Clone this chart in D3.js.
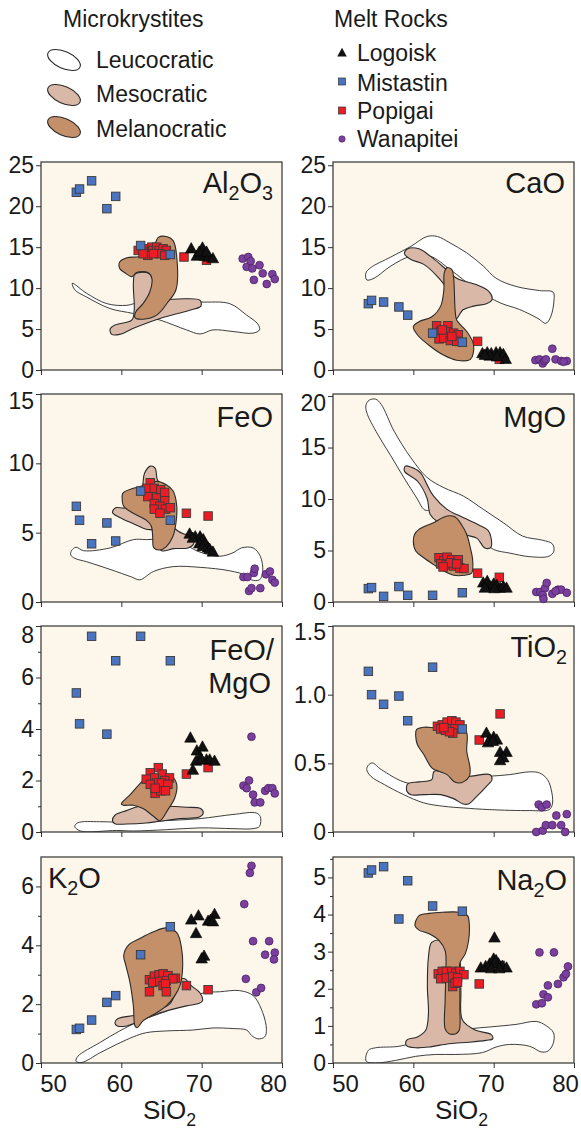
<!DOCTYPE html>
<html><head><meta charset="utf-8">
<script src="https://cdn.jsdelivr.net/npm/d3@7"></script>
<style>
body{margin:0;background:#fff}
text{font-family:"Liberation Sans",Arial,Helvetica,sans-serif;fill:#1a1a1a}
</style>
</head><body>
<svg id="c" width="581" height="1134"></svg>
<script>
// ---------------- DATA ----------------
const xTicks = [50, 60, 70, 80];

// Mistastin samples (same SiO2 in every panel)
const siO2Mistastin = [54.4, 54.8, 56.3, 58.2, 59.3, 62.4, 66.1];
const mistastinAl2O3 = [21.7, 22.1, 23.1, 19.7, 21.2, 15.2, 14.1];
const mistastinCaO   = [8.1, 8.5, 8.3, 7.7, 6.7, 4.5, 3.4];
const mistastinFeO   = [6.9, 5.9, 4.2, 5.7, 4.4, 8.0, 5.9];
const mistastinMgO   = [1.3, 1.4, 0.55, 1.5, 0.65, 0.65, 0.9];
const mistastinFeOMgO= [5.4, 4.2, 7.6, 3.8, 6.65, 7.6, 6.65];
const mistastinTiO2  = [1.17, 1.0, 0.93, 0.99, 0.81, 1.2, 0.75];
const mistastinK2O   = [1.14, 1.18, 1.46, 2.06, 2.29, 3.68, 4.63];
const mistastinNa2O  = [5.12, 5.2, 5.29, 3.88, 4.91, 4.23, 4.09];

// Popigai [SiO2, oxide]
const popigaiAl2O3 = [[62.1,14.6],[62.7,14.8],[63.1,14.4],[63.8,15.0],[63.9,14.6],[64.4,15.0],[64.7,14.6],[65.2,14.8],[65.6,14.6],[64.8,14.2],[63.3,14.0],[62.7,14.2],[64.0,14.2],[65.4,14.0],[67.8,13.8],[70.6,13.4]];
const popigaiCaO = [[62.9,5.4],[64.3,5.4],[63.4,4.7],[64.2,4.7],[65.0,4.5],[65.6,4.3],[63.2,3.8],[63.8,3.9],[64.6,3.6],[65.4,3.5],[63.6,4.9],[64.8,4.1],[68.0,3.5],[70.7,1.3]];
const popigaiFeO = [[63.6,8.6],[63.2,8.2],[64.1,8.2],[64.9,8.1],[63.3,7.6],[64.4,7.5],[65.4,7.9],[65.4,7.3],[64.1,7.1],[64.8,6.9],[65.5,6.7],[66.1,6.8],[64.1,6.7],[64.8,6.4],[68.1,6.4],[70.8,6.2]];
const popigaiMgO = [[63.2,4.3],[63.8,4.0],[64.2,4.35],[64.8,4.1],[65.6,4.1],[63.4,3.7],[64.1,3.6],[65.0,3.5],[65.8,3.3],[66.3,3.25],[64.6,3.8],[65.4,3.7],[63.7,3.4],[68.0,2.8],[70.7,2.4]];
const popigaiFeOMgO = [[64.6,2.5],[63.6,2.3],[65.1,2.25],[66.0,2.1],[64.1,2.1],[63.1,2.05],[65.4,2.0],[64.4,1.9],[63.6,1.85],[65.0,1.9],[65.8,1.85],[64.2,1.5],[64.9,1.6],[65.5,1.6],[64.2,1.7],[68.1,2.25],[70.8,2.5]];
const popigaiTiO2 = [[63.0,0.77],[63.6,0.78],[64.2,0.8],[64.8,0.81],[65.3,0.8],[65.8,0.78],[63.4,0.75],[64.0,0.74],[64.6,0.75],[65.2,0.75],[64.9,0.72],[64.5,0.73],[63.8,0.76],[68.2,0.67],[70.8,0.86]];
const popigaiK2O = [[63.5,2.83],[64.1,2.95],[64.7,3.0],[65.2,3.03],[65.8,2.97],[66.7,2.88],[63.9,2.74],[64.8,2.77],[65.6,2.8],[66.4,2.86],[65.2,2.63],[65.5,2.69],[63.5,2.42],[65.6,2.42],[68.1,2.63],[70.8,2.49]];
const popigaiNa2O = [[63.1,2.4],[63.6,2.47],[64.1,2.47],[64.8,2.47],[65.3,2.42],[65.8,2.47],[66.3,2.38],[63.4,2.27],[64.1,2.29],[64.9,2.33],[65.5,2.29],[64.9,2.06],[65.2,2.15],[65.5,2.18],[68.2,2.13],[70.8,2.63]];

// Logoisk [SiO2, oxide]
const logoiskAl2O3 = [[68.7,14.8],[70.1,14.9],[69.4,13.9],[70.4,13.9],[70.9,13.8],[71.4,13.6],[69.7,14.4],[70.6,14.4]];
const logoiskCaO = [[68.6,2.0],[69.2,2.1],[69.7,2.0],[70.3,2.1],[70.8,2.1],[71.2,1.9],[71.5,1.3],[69.5,1.7],[70.4,1.6],[68.9,1.8]];
const logoiskFeO = [[68.5,4.9],[69.2,4.7],[69.8,4.7],[70.2,4.5],[69.7,4.2],[70.4,4.2],[70.8,3.9],[71.0,3.8],[71.4,3.6],[70.1,4.0],[68.9,4.6]];
const logoiskMgO = [[68.7,1.85],[69.2,2.0],[69.5,1.5],[70.0,1.75],[70.4,1.6],[70.8,1.35],[71.2,1.5],[71.6,1.35],[68.9,1.35],[70.1,1.3]];
const logoiskFeOMgO = [[68.6,3.65],[69.4,3.15],[70.1,3.3],[69.8,2.9],[69.3,2.75],[70.6,2.8],[71.0,2.8],[71.6,2.75],[68.9,2.4],[70.0,2.8]];
const logoiskTiO2 = [[69.1,0.72],[69.5,0.67],[70.0,0.69],[70.4,0.67],[69.3,0.65],[70.8,0.58],[71.6,0.58],[71.2,0.54],[70.8,0.52],[69.9,0.66]];
const logoiskK2O = [[68.7,4.86],[69.6,5.0],[69.3,4.4],[70.3,3.63],[70.0,3.54],[70.8,4.82],[71.1,4.85],[71.6,5.05],[71.4,4.8]];
const logoiskNa2O = [[70.1,3.37],[68.4,2.56],[69.0,2.6],[69.5,2.67],[70.0,2.8],[70.3,2.76],[70.6,2.67],[71.1,2.6],[71.6,2.56],[69.7,2.54],[70.7,2.54]];

// Wanapitei [SiO2, oxide]
const wanapiteiAl2O3 = [[75.1,13.6],[75.8,13.8],[75.6,12.6],[76.1,13.3],[76.3,12.4],[77.2,12.8],[77.6,11.8],[76.5,11.0],[78.1,10.5],[78.8,11.7],[79.1,11.1]];
const wanapiteiCaO = [[75.2,1.2],[75.7,1.3],[76.1,0.8],[76.3,1.1],[76.5,1.3],[77.3,2.6],[77.7,1.3],[78.4,1.1],[79.1,1.1],[78.7,1.0]];
const wanapiteiFeO = [[75.2,1.8],[75.7,1.8],[76.5,2.1],[76.6,2.4],[78.0,2.0],[78.5,2.2],[78.8,1.6],[79.1,1.4],[75.9,0.8],[76.2,1.0],[77.3,1.0]];
const wanapiteiMgO = [[75.3,0.97],[75.8,0.97],[76.1,0.7],[76.2,0.3],[76.4,1.35],[76.6,1.85],[77.3,0.8],[78.0,1.2],[78.4,1.2],[79.1,0.9],[77.7,1.05]];
const wanapiteiFeOMgO = [[76.2,3.7],[75.2,1.8],[75.6,1.7],[75.9,2.0],[76.4,1.45],[76.6,1.15],[77.3,1.15],[77.9,1.6],[78.3,1.7],[78.8,1.7],[79.1,1.5]];
const wanapiteiTiO2 = [[75.6,0.2],[76.0,0.18],[76.6,0.2],[75.3,0.0],[76.1,0.01],[76.5,0.05],[77.3,0.05],[77.8,0.12],[78.4,0.05],[79.1,0.13],[78.9,0.0]];
const wanapiteiK2O = [[76.2,6.7],[76.0,6.46],[75.3,5.4],[76.4,4.14],[78.4,4.14],[77.9,3.68],[79.1,3.75],[79.0,3.52],[75.5,2.86],[76.8,2.4],[77.4,2.55]];
const wanapiteiNa2O = [[75.7,2.98],[77.5,2.98],[75.3,1.58],[76.0,1.61],[76.2,1.85],[76.75,1.77],[76.75,2.09],[78.0,2.13],[78.7,2.31],[79.0,2.4],[79.25,2.6]];

// Microkrystite fields (outline vertices, [SiO2, oxide])
const leucoAl2O3 = [[53.9,10.6],[55.7,9.35],[58.2,8.1],[60.7,7.9],[62.3,8.3],[65.6,8.5],[69.8,8.3],[73.5,8.1],[75.6,6.7],[77.0,5.6],[77.2,4.9],[76.4,4.5],[73.9,4.7],[71.4,4.9],[69.8,4.4],[68.1,4.9],[64.8,6.1],[61.5,6.9],[58.6,7.5],[55.7,8.9],[54.2,9.8]];
const mesoAl2O3 = [[58.8,4.35],[58.6,5.0],[59.2,5.5],[61.3,6.1],[61.6,7.3],[61.5,10.6],[61.7,11.7],[63.1,11.9],[63.8,11.5],[63.9,9.8],[63.3,8.5],[65.6,8.6],[68.1,8.7],[69.8,8.5],[69.9,7.8],[68.5,7.3],[64.8,6.3],[61.5,5.1],[59.8,4.35]];
const melaAl2O3 = [[59.8,13.2],[60.7,13.7],[62.3,13.9],[64.0,15.0],[64.6,16.2],[65.6,16.3],[66.45,15.8],[66.9,13.8],[66.8,9.8],[65.8,8.3],[64.4,6.7],[62.7,6.2],[61.7,6.4],[61.8,7.1],[62.7,8.1],[63.55,9.55],[63.8,11.2],[63.3,11.9],[61.9,11.9],[61.3,11.4],[60.4,11.9],[59.8,12.4]];

const leucoCaO = [[54.2,11.0],[54.1,11.85],[54.7,12.5],[57.2,13.8],[59.7,15.1],[61.7,16.3],[63.0,16.3],[64.6,15.5],[66.65,14.3],[68.7,12.7],[70.3,11.2],[72.8,10.2],[75.7,9.7],[77.4,9.5],[77.5,8.4],[77.1,6.5],[76.5,5.7],[75.5,6.3],[73.2,7.4],[70.8,8.2],[67.9,9.8],[64.6,12.25],[62.1,13.9],[59.7,13.9],[57.2,12.7],[55.1,11.2]];
const mesoCaO = [[58.9,14.2],[59.3,14.8],[60.7,14.8],[62.1,13.9],[63.6,12.7],[65.4,11.2],[67.9,10.4],[69.4,9.6],[69.8,8.6],[69.1,8.1],[67.5,7.8],[66.2,7.35],[65.2,6.1],[64.6,7.35],[64.2,9.8],[63.0,11.4],[61.3,12.9],[59.7,13.5]];
const melaCaO = [[64.2,12.5],[64.8,12.25],[65.0,11.4],[65.1,9.8],[65.2,7.35],[65.4,6.1],[66.65,4.7],[67.5,3.1],[67.1,1.3],[65.4,1.2],[63.8,1.8],[62.1,2.9],[60.5,4.3],[60.0,5.3],[60.7,5.9],[62.3,6.5],[63.4,7.8],[63.8,9.8],[63.85,11.85]];

const leucoFeO = [[53.8,3.7],[54.35,3.95],[55.3,3.7],[58.6,3.9],[61.5,4.5],[63.1,4.5],[66.45,4.5],[69.8,3.6],[72.25,3.3],[73.9,3.55],[74.95,3.9],[76.4,3.9],[77.3,3.3],[77.6,2.2],[77.2,1.6],[76.2,1.6],[75.6,1.9],[73.5,2.25],[69.8,2.5],[66.45,2.55],[64.0,2.2],[62.3,1.6],[61.3,1.8],[58.6,2.35],[55.7,2.9],[54.2,3.15],[53.7,3.4]];
const mesoFeO = [[58.9,6.45],[59.3,6.8],[60.6,6.8],[62.5,8.1],[62.9,9.3],[63.6,9.8],[64.2,9.65],[64.5,8.8],[65.2,8.35],[66.45,5.45],[67.8,4.9],[68.7,4.9],[69.0,4.2],[68.3,3.9],[66.45,3.85],[65.0,3.7],[64.2,4.7],[64.05,5.15],[63.1,5.25],[61.5,5.65],[59.8,6.1]];
const melaFeO = [[60.2,7.85],[61.5,8.2],[63.1,8.45],[64.4,8.7],[65.6,8.45],[66.45,8.0],[66.9,6.9],[66.8,5.7],[66.4,4.7],[65.6,4.0],[64.8,3.75],[64.05,3.9],[63.9,4.7],[63.75,5.45],[63.1,5.9],[61.5,6.4],[60.3,6.9],[60.1,7.5]];

const leucoMgO = [[54.2,18.4],[54.1,19.1],[54.5,19.6],[55.3,19.7],[56.0,19.2],[57.6,16.6],[59.7,14.0],[61.7,12.1],[63.8,11.1],[66.2,10.3],[68.7,9.0],[71.2,7.7],[73.6,6.4],[76.1,6.0],[77.3,5.65],[77.5,4.95],[76.9,4.45],[74.5,4.4],[72.0,4.75],[70.0,5.1],[68.7,5.9],[67.1,7.05],[64.6,8.2],[62.5,9.3],[61.9,8.9],[61.3,9.0],[60.5,10.0],[58.8,12.1],[57.2,14.2],[55.55,16.3]];
const mesoMgO = [[58.9,12.7],[59.0,13.2],[59.7,13.1],[60.9,12.55],[61.7,11.4],[62.5,10.3],[64.2,9.0],[66.2,8.2],[68.1,7.5],[69.3,6.95],[69.7,6.1],[69.65,5.3],[68.9,5.25],[67.9,6.2],[66.4,6.55],[65.4,7.2],[62.95,7.85],[62.1,8.5],[61.7,10.1],[60.5,11.75]];
const melaMgO = [[60.15,6.55],[60.7,7.05],[62.5,7.7],[64.2,8.35],[65.2,8.25],[66.0,7.5],[66.65,6.55],[67.1,5.25],[67.4,3.95],[67.25,2.8],[66.4,2.6],[65.0,2.6],[63.8,3.0],[62.5,3.65],[61.3,4.3],[60.3,4.95],[60.0,5.9]];

const leucoFeOMgO = [[54.2,0.22],[54.6,0.36],[57.3,0.4],[61.5,0.36],[64.8,0.43],[69.8,0.52],[73.9,0.68],[76.8,0.74],[77.3,0.6],[77.2,0.22],[76.4,0.13],[73.9,0.13],[69.8,0.16],[65.6,0.09],[61.5,0.04],[59.4,0.06],[54.9,0.04]];
const mesoFeOMgO = [[58.9,0.44],[59.2,0.65],[60.65,0.83],[62.3,1.0],[65.6,1.0],[68.1,0.96],[69.85,0.91],[70.2,0.74],[69.7,0.58],[67.3,0.52],[64.8,0.42],[63.1,0.35],[60.65,0.31],[59.2,0.32]];
const melaFeOMgO = [[60.0,1.09],[61.1,1.45],[62.3,1.87],[63.3,2.17],[64.8,2.23],[66.25,2.17],[66.9,1.84],[66.65,1.32],[65.8,0.87],[64.8,0.44],[64.0,0.61],[62.7,0.91],[61.5,1.04],[60.25,1.04]];

const leucoTiO2 = [[54.2,0.455],[54.4,0.486],[54.9,0.503],[56.0,0.455],[59.25,0.357],[62.5,0.365],[66.2,0.394],[69.5,0.406],[72.0,0.418],[74.45,0.438],[75.7,0.43],[76.7,0.382],[77.25,0.284],[77.3,0.2],[76.9,0.163],[74.45,0.156],[69.5,0.163],[66.2,0.175],[63.8,0.187],[61.3,0.212],[58.8,0.272],[56.4,0.345],[54.7,0.406]];
const mesoTiO2 = [[59.2,0.297],[59.3,0.35],[60.7,0.365],[62.3,0.382],[62.6,0.443],[65.4,0.406],[67.1,0.406],[69.5,0.418],[69.8,0.382],[69.1,0.333],[67.9,0.26],[66.85,0.204],[66.2,0.204],[65.0,0.243],[63.4,0.272],[61.3,0.272],[59.7,0.272]];
const melaTiO2 = [[60.4,0.746],[61.3,0.763],[62.95,0.759],[64.6,0.771],[66.0,0.759],[66.65,0.722],[66.65,0.588],[67.06,0.467],[66.98,0.406],[66.24,0.365],[65.6,0.357],[65.0,0.37],[64.2,0.418],[62.95,0.447],[62.3,0.467],[61.3,0.564],[60.5,0.637],[60.3,0.698]];

const leucoK2O = [[54.35,0.06],[54.6,0.23],[57.3,0.69],[59.8,1.09],[62.3,1.43],[65.6,1.77],[68.1,2.11],[70.2,2.38],[72.25,2.42],[74.7,2.46],[76.4,2.29],[77.6,1.71],[78.06,1.14],[77.85,0.89],[77.0,0.82],[76.2,0.94],[75.6,1.12],[73.9,1.17],[71.4,1.19],[68.9,1.12],[65.6,1.09],[63.1,1.03],[61.5,0.89],[59.4,0.63],[57.3,0.34],[55.1,0.02]];
const mesoK2O = [[59.2,1.37],[59.6,1.51],[61.7,1.62],[64.0,1.77],[66.0,2.0],[66.9,2.51],[67.3,2.83],[67.9,2.86],[68.7,2.63],[69.8,2.38],[70.1,2.11],[69.7,2.03],[68.1,1.94],[66.45,1.83],[64.4,1.66],[62.3,1.43],[60.65,1.26],[59.5,1.26]];
const melaK2O = [[60.3,3.66],[60.86,4.0],[62.3,4.23],[64.0,4.46],[65.6,4.59],[66.9,4.43],[67.5,3.89],[67.6,3.09],[67.3,2.63],[66.66,2.29],[65.6,1.94],[64.4,1.71],[62.7,1.43],[61.98,1.2],[61.7,1.26],[61.5,1.94],[61.07,2.74],[60.57,3.31]];

const leucoNa2O = [[54.13,0.05],[54.4,0.34],[55.3,0.41],[58.2,0.45],[61.1,0.61],[64.0,0.79],[67.0,0.92],[69.5,0.97],[72.8,1.04],[75.3,1.12],[76.5,1.01],[77.46,0.81],[77.4,0.52],[76.75,0.32],[75.9,0.3],[74.5,0.45],[72.0,0.5],[70.3,0.43],[68.6,0.28],[65.3,0.23],[62.8,0.23],[60.3,0.18],[57.8,0.07],[55.3,0.0]];
const mesoNa2O = [[59.04,0.52],[59.25,0.63],[60.5,0.7],[61.54,0.88],[61.88,1.33],[61.75,2.04],[61.88,2.85],[62.29,3.25],[63.63,3.3],[65.29,3.03],[65.79,2.76],[65.92,1.95],[66.13,1.15],[67.79,0.88],[69.67,0.77],[69.88,0.65],[69.04,0.61],[66.96,0.56],[64.46,0.52],[61.96,0.43],[60.29,0.41],[59.25,0.45]];
const melaNa2O = [[60.21,3.7],[60.71,3.97],[61.96,4.03],[63.63,4.06],[65.71,4.06],[66.75,3.97],[66.96,3.75],[66.88,3.3],[66.46,2.94],[65.79,2.69],[65.79,2.22],[65.79,1.51],[65.71,0.88],[65.29,0.79],[64.46,0.79],[63.96,0.92],[63.96,1.68],[64.04,2.4],[63.96,3.03],[63.21,3.3],[61.96,3.48],[60.71,3.58]];

// ---------------- LAYOUT / STYLE ----------------
const colX = [[41, 282], [333, 574]];
const rowY = [[162, 370], [394, 602], [626, 832], [857, 1063]];
const C = {bg:"#fcf7ea", leuco:"#ffffff", meso:"#d9b8a7", mela:"#c39069",
  blue:"#4a73c0", red:"#ed1c24", purple:"#7b3f9d", tri:"#111111", line:"#2a2a2a"};
const xLabelShift = {50: 12, 60: -2, 70: -3, 80: -9};

const panels = [
  {col:0,row:0,domain:[0,25.4],ticks:[0,5,10,15,20,25],minor:[],topShift:0,fmt:d=>d,
   mist:mistastinAl2O3,pop:popigaiAl2O3,log:logoiskAl2O3,wan:wanapiteiAl2O3,leuco:leucoAl2O3,meso:mesoAl2O3,mela:melaAl2O3,
   labels:[{x:273,y:193,anchor:"end",parts:[["Al"],["2",1],["O"],["3",1]]}]},
  {col:1,row:0,domain:[0,25.4],ticks:[0,5,10,15,20,25],minor:[],topShift:0,fmt:d=>d,
   mist:mistastinCaO,pop:popigaiCaO,log:logoiskCaO,wan:wanapiteiCaO,leuco:leucoCaO,meso:mesoCaO,mela:melaCaO,
   labels:[{x:565,y:193,anchor:"end",parts:[["CaO"]]}]},
  {col:0,row:1,domain:[0,15],ticks:[0,5,10,15],minor:[],topShift:7,fmt:d=>d,
   mist:mistastinFeO,pop:popigaiFeO,log:logoiskFeO,wan:wanapiteiFeO,leuco:leucoFeO,meso:mesoFeO,mela:melaFeO,
   labels:[{x:273,y:427,anchor:"end",parts:[["FeO"]]}]},
  {col:1,row:1,domain:[0,20.2],ticks:[0,5,10,15,20],minor:[],topShift:7,fmt:d=>d,
   mist:mistastinMgO,pop:popigaiMgO,log:logoiskMgO,wan:wanapiteiMgO,leuco:leucoMgO,meso:mesoMgO,mela:melaMgO,
   labels:[{x:566,y:427,anchor:"end",parts:[["MgO"]]}]},
  {col:0,row:2,domain:[0,8],ticks:[0,2,4,6,8],minor:[1,3,5,7],topShift:9,fmt:d=>d,
   mist:mistastinFeOMgO,pop:popigaiFeOMgO,log:logoiskFeOMgO,wan:wanapiteiFeOMgO,leuco:leucoFeOMgO,meso:mesoFeOMgO,mela:melaFeOMgO,
   labels:[{x:274,y:660,anchor:"end",parts:[["FeO/"]]},{x:271,y:693,anchor:"end",parts:[["MgO"]]}]},
  {col:1,row:2,domain:[0,1.5],ticks:[0,0.5,1.0,1.5],minor:[],topShift:6,fmt:d=>d===0?"0":d3.format(".1f")(d),
   mist:mistastinTiO2,pop:popigaiTiO2,log:logoiskTiO2,wan:wanapiteiTiO2,leuco:leucoTiO2,meso:mesoTiO2,mela:melaTiO2,
   labels:[{x:567,y:657,anchor:"end",parts:[["TiO"],["2",1]]}]},
  {col:0,row:3,domain:[0,7],ticks:[0,2,4,6],minor:[1,3,5],topShift:0,fmt:d=>d,
   mist:mistastinK2O,pop:popigaiK2O,log:logoiskK2O,wan:wanapiteiK2O,leuco:leucoK2O,meso:mesoK2O,mela:melaK2O,
   labels:[{x:48,y:888,anchor:"start",parts:[["K"],["2",1],["O"]]}]},
  {col:1,row:3,domain:[0,5.55],ticks:[0,1,2,3,4,5],minor:[0.5,1.5,2.5,3.5,4.5,5.5],topShift:0,fmt:d=>d,
   mist:mistastinNa2O,pop:popigaiNa2O,log:logoiskNa2O,wan:wanapiteiNa2O,leuco:leucoNa2O,meso:mesoNa2O,mela:melaNa2O,
   labels:[{x:567,y:890,anchor:"end",parts:[["Na"],["2",1],["O"]]}]}
];

const svg = d3.select("#c");
const FONT = '"Liberation Sans",Arial,sans-serif';

function triPath(cx, cy, s) {
  const h = s * 0.9;
  return `M${cx},${cy - h*0.6}L${cx + s/2},${cy + h*0.4}L${cx - s/2},${cy + h*0.4}Z`;
}
function addLabel(g, lab, size, drop) {
  drop = drop || 7;
  const t = g.append("text").attr("x", lab.x).attr("y", lab.y)
    .attr("text-anchor", lab.anchor).attr("font-size", size);
  let sub = false;
  lab.parts.forEach(p => {
    const isSub = !!p[1];
    const ts = t.append("tspan").text(p[0]);
    if (isSub) ts.attr("font-size", size * 0.68).attr("dy", sub ? 0 : drop);
    else ts.attr("dy", sub ? -drop : 0);
    sub = isSub;
  });
}

panels.forEach((p, i) => {
  const x = d3.scaleLinear().domain([50, 80]).range(colX[p.col]);
  const y = d3.scaleLinear().domain(p.domain).range([rowY[p.row][1], rowY[p.row][0]]);
  const g = svg.append("g");
  const [x0, x1] = colX[p.col], [y0, y1] = rowY[p.row];
  g.append("clipPath").attr("id", "cp" + i).append("rect")
    .attr("x", x0).attr("y", y0).attr("width", x1 - x0).attr("height", y1 - y0);
  g.append("rect").attr("x", x0).attr("y", y0).attr("width", x1 - x0).attr("height", y1 - y0).attr("fill", C.bg);

  const fields = g.append("g").attr("clip-path", `url(#cp${i})`);
  const line = d3.line().x(d => x(d[0])).y(d => y(d[1])).curve(d3.curveCatmullRomClosed.alpha(0.5));
  [[p.leuco, C.leuco, 0.9], [p.meso, C.meso, 1.1], [p.mela, C.mela, 1.1]].forEach(([pts, fill, sw]) => {
    fields.append("path").attr("d", line(pts)).attr("fill", fill)
      .attr("stroke", C.line).attr("stroke-width", sw).attr("stroke-linejoin", "round");
  });

  // axes
  const topTick = p.ticks[p.ticks.length - 1];
  const ax = d3.axisLeft(y).tickValues(p.ticks).tickFormat(p.fmt).tickSize(5).tickPadding(2);
  const ga = g.append("g").attr("transform", `translate(${x0},0)`).call(ax);
  ga.select(".domain").remove();
  ga.selectAll("line").attr("stroke", "#333").attr("stroke-width", 1);
  ga.selectAll("text").attr("font-size", 23).attr("fill", "#1a1a1a").style("font-family", FONT)
    .attr("y", d => d === topTick ? p.topShift : 0);
  if (p.minor.length) {
    const gm = g.append("g").attr("transform", `translate(${x0},0)`)
      .call(d3.axisLeft(y).tickValues(p.minor).tickFormat("").tickSize(3));
    gm.select(".domain").remove();
    gm.selectAll("line").attr("stroke", "#333");
  }
  const bottom = p.row === 3;
  const bx = d3.axisBottom(x).tickValues(xTicks).tickSize(5).tickPadding(7)
    .tickFormat(bottom ? d => d : "");
  const gb = g.append("g").attr("transform", `translate(0,${y1})`).call(bx);
  gb.select(".domain").remove();
  gb.selectAll("line").attr("stroke", "#333");
  gb.selectAll("text").attr("font-size", 24).attr("fill", "#1a1a1a").style("font-family", FONT)
    .attr("dx", d => xLabelShift[d]);

  g.append("rect").attr("x", x0).attr("y", y0).attr("width", x1 - x0).attr("height", y1 - y0)
    .attr("fill", "none").attr("stroke", "#333").attr("stroke-width", 1.2);

  // points: Popigai, Mistastin, Logoisk, Wanapitei
  const sq = 8.5;
  g.selectAll(".pop").data(p.pop).join("rect")
    .attr("x", d => x(d[0]) - sq/2).attr("y", d => y(d[1]) - sq/2)
    .attr("width", sq).attr("height", sq).attr("fill", C.red)
    .attr("stroke", "#3a3a3a").attr("stroke-width", 0.9);
  const mist = siO2Mistastin.map((s, k) => [s, p.mist[k]]);
  g.selectAll(".mist").data(mist).join("rect")
    .attr("x", d => x(d[0]) - sq/2).attr("y", d => y(d[1]) - sq/2)
    .attr("width", sq).attr("height", sq).attr("fill", C.blue)
    .attr("stroke", "#3a3a3a").attr("stroke-width", 0.9);
  g.selectAll(".log").data(p.log).join("path")
    .attr("d", d => triPath(x(d[0]), y(d[1]), 11.5)).attr("fill", C.tri)
    .attr("stroke", "#000").attr("stroke-width", 0.6);
  g.selectAll(".wan").data(p.wan).join("circle")
    .attr("cx", d => x(d[0])).attr("cy", d => y(d[1])).attr("r", 3.9)
    .attr("fill", C.purple).attr("stroke", "#4a2266").attr("stroke-width", 0.8);

  p.labels.forEach(l => addLabel(g, l, 29));
});

// x axis titles
[0, 1].forEach(c => {
  const cx = (colX[c][0] + colX[c][1]) / 2 + 8;
  addLabel(svg, {x: cx, y: 1119, anchor: "middle", parts: [["SiO"], ["2", 1]]}, 26, 7);
});

// ---------------- LEGEND ----------------
svg.append("text").attr("x", 63).attr("y", 27).attr("font-size", 23).text("Microkrystites");
const legFields = [["Leucocratic", C.leuco, 60, 68], ["Mesocratic", C.meso, 95, 102], ["Melanocratic", C.mela, 127, 137]];
legFields.forEach(([name, fill, cy, ty]) => {
  svg.append("ellipse").attr("cx", 0).attr("cy", 0).attr("rx", 17.5).attr("ry", 8.5)
    .attr("transform", `translate(64,${cy}) rotate(24)`)
    .attr("fill", fill).attr("stroke", C.line).attr("stroke-width", 1.1);
  svg.append("text").attr("x", 96).attr("y", ty).attr("font-size", 23).text(name);
});
svg.append("text").attr("x", 334).attr("y", 27).attr("font-size", 23).text("Melt Rocks");
svg.append("path").attr("d", triPath(342, 53, 9.5)).attr("fill", C.tri);
svg.append("text").attr("x", 357).attr("y", 61).attr("font-size", 23).text("Logoisk");
svg.append("rect").attr("x", 338.5).attr("y", 78).attr("width", 7).attr("height", 7)
  .attr("fill", C.blue).attr("stroke", "#333").attr("stroke-width", 0.7);
svg.append("text").attr("x", 357).attr("y", 91).attr("font-size", 23).text("Mistastin");
svg.append("rect").attr("x", 338.5).attr("y", 107).attr("width", 7).attr("height", 7)
  .attr("fill", C.red).attr("stroke", "#333").attr("stroke-width", 0.7);
svg.append("text").attr("x", 357).attr("y", 119).attr("font-size", 23).text("Popigai");
svg.append("circle").attr("cx", 342).attr("cy", 139).attr("r", 3.2)
  .attr("fill", C.purple).attr("stroke", "#4a2266").attr("stroke-width", 0.6);
svg.append("text").attr("x", 357).attr("y", 147).attr("font-size", 23).text("Wanapitei");
</script>
</body></html>
